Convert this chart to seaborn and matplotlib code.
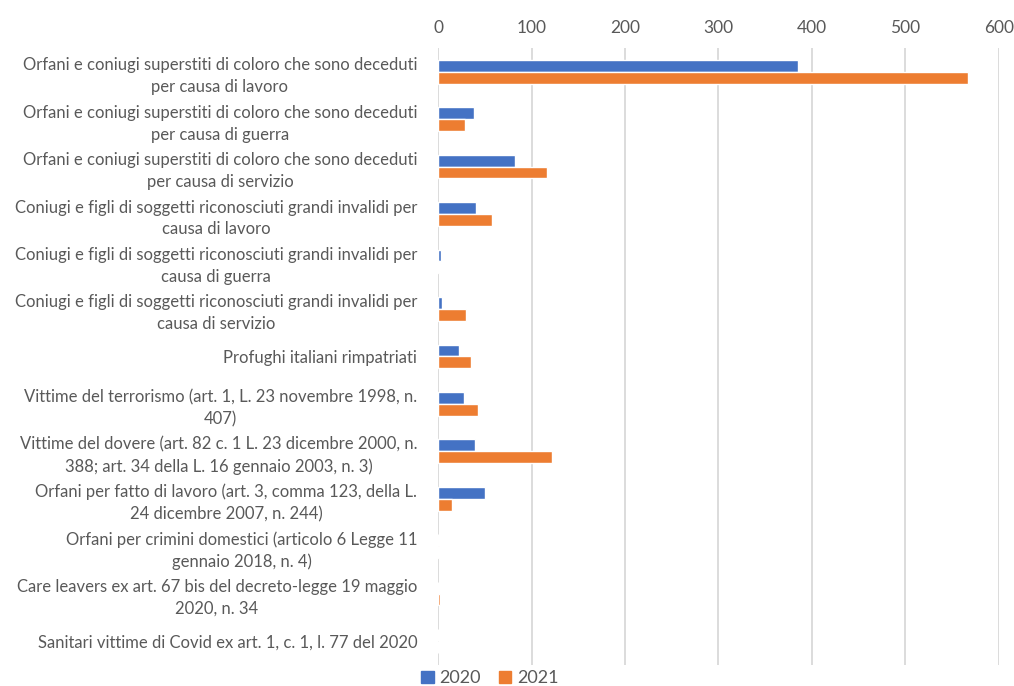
import pandas as pd
import numpy as np
import matplotlib
matplotlib.use('Agg')
import matplotlib.pyplot as plt
import seaborn as sns
from matplotlib.patches import Patch

# categories (as labelled in the chart)
categorie = [
    'Orfani e coniugi superstiti di coloro che sono deceduti\nper causa di lavoro',
    'Orfani e coniugi superstiti di coloro che sono deceduti\nper causa di guerra',
    'Orfani e coniugi superstiti di coloro che sono deceduti\nper causa di servizio',
    'Coniugi e figli di soggetti riconosciuti grandi invalidi per\ncausa di lavoro',
    'Coniugi e figli di soggetti riconosciuti grandi invalidi per\ncausa di guerra',
    'Coniugi e figli di soggetti riconosciuti grandi invalidi per\ncausa di servizio',
    'Profughi italiani rimpatriati',
    'Vittime del terrorismo (art. 1, L. 23 novembre 1998, n.\n407)',
    'Vittime del dovere (art. 82 c. 1 L. 23 dicembre 2000, n.\n388; art. 34 della L. 16 gennaio 2003, n. 3)',
    'Orfani per fatto di lavoro (art. 3, comma 123, della L.\n24 dicembre 2007, n. 244)',
    'Orfani per crimini domestici (articolo 6 Legge 11\ngennaio 2018, n. 4)',
    'Care leavers ex art. 67 bis del decreto-legge 19 maggio\n2020, n. 34',
    'Sanitari vittime di Covid ex art. 1, c. 1, l. 77 del 2020',
]
valori_2020 = [385, 38, 82, 41, 3, 4, 22, 28, 40, 50, 0, 0, 0]
valori_2021 = [567, 29, 117, 58, 1, 30, 35, 43, 122, 15, 1, 2, 0]

df = pd.DataFrame({
    'categoria': categorie * 2,
    'valore': valori_2020 + valori_2021,
    'anno': ['2020'] * len(categorie) + ['2021'] * len(categorie),
})

sns.set_style('white')
plt.rcParams['font.family'] = ['Lato', 'DejaVu Sans']

fig = plt.figure(figsize=(10.14, 6.86), dpi=100)
ax = fig.add_axes([0.432, 0.031, 0.553, 0.899])

sns.barplot(data=df, x='valore', y='categoria', hue='anno', orient='h',
            palette=['#4472C4', '#ED7D31'], width=0.5, ax=ax,
            saturation=1, legend=False)

ax.set_xlim(0, 600)
ax.set_xticks(range(0, 700, 100))
ax.xaxis.tick_top()
ax.set_xlabel('')
ax.set_ylabel('')
ax.grid(axis='x', color='#D9D9D9', linewidth=1.3)
ax.set_axisbelow(True)
for s in ax.spines.values():
    s.set_visible(False)
ax.tick_params(axis='x', length=0, labelsize=12.5, colors='#595959', pad=9)
ax.tick_params(axis='y', length=0, labelsize=12, colors='#595959', pad=15)
for t in ax.get_yticklabels():
    t.set_multialignment('center')
    t.set_linespacing(1.45)

handles = [Patch(color='#4472C4', label='2020'), Patch(color='#ED7D31', label='2021')]
fig.legend(handles=handles, loc='lower center', bbox_to_anchor=(0.483, -0.024),
           ncol=2, frameon=False, fontsize=13, handlelength=0.7, handleheight=0.7,
           handletextpad=0.3, columnspacing=1.0, labelcolor='#595959')

fig.savefig('out.png', dpi=100)
